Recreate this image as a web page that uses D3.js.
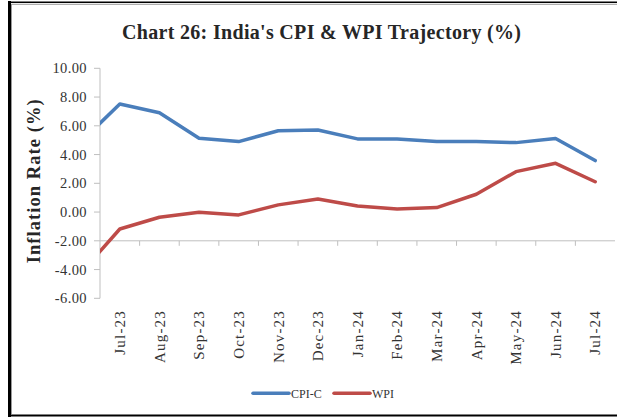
<!DOCTYPE html>
<html lang="en">
<head>
	<meta charset="utf-8">
	<title>Chart 26</title>
	<style>
		body { margin: 0; background: #fff; }
		svg text { font-family: "Liberation Serif", "Times New Roman", serif; fill: #333; }
	</style>
</head>
<body>
	<svg id="chart" width="617" height="417"></svg>

	<script src="https://d3js.org/d3.v7.min.js"></script>
	<script>
		"use strict";

		// Jun-23 sits just left of the plot area; the lines are clipped at the axis
		var months = ["Jun-23", "Jul-23", "Aug-23", "Sep-23", "Oct-23", "Nov-23", "Dec-23",
			"Jan-24", "Feb-24", "Mar-24", "Apr-24", "May-24", "Jun-24", "Jul-24"];
		var cpiC = [4.84, 7.52, 6.91, 5.13, 4.90, 5.66, 5.71, 5.09, 5.09, 4.90, 4.90, 4.83, 5.11, 3.58];
		var wpi = [-4.30, -1.18, -0.36, -0.01, -0.20, 0.50, 0.91, 0.42, 0.22, 0.31, 1.24, 2.81, 3.39, 2.11];
		var yTicks = [-6, -4, -2, 0, 2, 4, 6, 8, 10];
		var seriesNames = ["CPI-C", "WPI"];
		var colors = ["#4A7EBB", "#BE4B48"];

		var svg = d3.select("#chart");
		var pLeft = 100, pRight = 615, pTop = 68.3, pBottom = 298.3;
		var shown = months.slice(1);
		var step = (pRight - pLeft) / shown.length;

		var x = d3.scalePoint()
			.domain(months)
			.range([pLeft - step / 2, pRight - step / 2]);
		var y = d3.scaleLinear().domain([-6, 10]).range([pBottom, pTop]);

		// frame
		svg.append("rect").attr("x", 8).attr("y", 1).attr("width", 3).attr("height", 416).attr("fill", "#000");
		svg.append("line").attr("x1", 11.5).attr("x2", 11.5).attr("y1", 4).attr("y2", 414)
			.attr("stroke", "#9a9a9a").attr("stroke-width", 1);
		svg.append("line").attr("x1", 8).attr("x2", 617).attr("y1", 2.2).attr("y2", 2.2)
			.attr("stroke", "#000").attr("stroke-width", 1.4);
		svg.append("line").attr("x1", 11).attr("x2", 617).attr("y1", 4.3).attr("y2", 4.3)
			.attr("stroke", "#9a9a9a").attr("stroke-width", 1);
		svg.append("line").attr("x1", 8).attr("x2", 617).attr("y1", 415.6).attr("y2", 415.6)
			.attr("stroke", "#000").attr("stroke-width", 2);

		// title
		svg.append("text")
			.attr("x", 321.5).attr("y", 39)
			.attr("text-anchor", "middle")
			.attr("font-size", 20).attr("font-weight", "bold")
			.attr("textLength", 399).attr("lengthAdjust", "spacing")
			.style("fill", "#262626")
			.text("Chart 26: India's CPI & WPI Trajectory (%)");

		// y axis
		var axisColor = "#bfbfbf";
		svg.append("line").attr("x1", pLeft).attr("x2", pLeft).attr("y1", pTop).attr("y2", pBottom)
			.attr("stroke", axisColor).attr("stroke-width", 1);
		var fmt = d3.format(".2f");
		var yt = svg.append("g").selectAll("g").data(yTicks).enter().append("g");
		yt.append("line")
			.attr("x1", pLeft - 6).attr("x2", pLeft)
			.attr("y1", function(d){ return y(d); })
			.attr("y2", function(d){ return y(d); })
			.attr("stroke", axisColor);
		yt.append("text")
			.attr("x", 87).attr("y", function(d){ return y(d); })
			.attr("dy", "0.35em")
			.attr("text-anchor", "end")
			.attr("font-size", 14.5).attr("letter-spacing", 0.4)
			.text(function(d){ return fmt(d).replace("\u2212", "-"); });

		svg.append("text")
			.attr("transform", "translate(40," + ((pTop + pBottom) / 2 - 2) + ") rotate(-90)")
			.attr("text-anchor", "middle")
			.attr("font-size", 18.5).attr("font-weight", "bold")
			.attr("textLength", 164).attr("lengthAdjust", "spacing")
			.style("fill", "#262626")
			.text("Inflation Rate (%)");

		// x axis, crossing at -2
		var y0 = y(-2);
		svg.append("line").attr("x1", pLeft).attr("x2", pRight).attr("y1", y0).attr("y2", y0)
			.attr("stroke", axisColor);
		svg.append("g").selectAll("line").data(shown.slice(1)).enter().append("line")
			.attr("x1", function(d){ return x(d) - step / 2; })
			.attr("x2", function(d){ return x(d) - step / 2; })
			.attr("y1", y0).attr("y2", y0 + 5)
			.attr("stroke", axisColor);
		svg.append("g").selectAll("text").data(shown).enter().append("text")
			.attr("transform", function(d){ return "translate(" + x(d) + ",310) rotate(-90)"; })
			.attr("dy", "0.35em")
			.attr("text-anchor", "end")
			.attr("font-size", 15).attr("letter-spacing", 1.2)
			.text(function(d){ return d; });

		// lines
		svg.append("clipPath").attr("id", "plot")
			.append("rect").attr("x", pLeft).attr("y", 0).attr("width", pRight - pLeft).attr("height", 417);

		var line = d3.line()
			.x(function(d){ return x(d.m); })
			.y(function(d){ return y(d.v); });

		[cpiC, wpi].forEach(function(vals, s){
			var pts = vals.map(function(v, i){ return { m: months[i], v: v }; });
			svg.append("path")
				.attr("d", line(pts))
				.attr("clip-path", "url(#plot)")
				.attr("fill", "none")
				.attr("stroke", colors[s])
				.attr("stroke-width", 3.5)
				.attr("stroke-linejoin", "round")
				.attr("stroke-linecap", "round");
		});

		// legend
		var legendX = [253, 334];
		var lg = svg.append("g").selectAll("g").data(seriesNames).enter().append("g");
		lg.append("line")
			.attr("x1", function(d, i){ return legendX[i]; })
			.attr("x2", function(d, i){ return legendX[i] + 36; })
			.attr("y1", 393.3).attr("y2", 393.3)
			.attr("stroke", function(d, i){ return colors[i]; })
			.attr("stroke-width", 3.5)
			.attr("stroke-linecap", "round");
		lg.append("text")
			.attr("x", function(d, i){ return legendX[i] + 38; })
			.attr("y", 393.3).attr("dy", "0.35em")
			.attr("font-size", 12)
			.text(function(d){ return d; });
	</script>
</body>
</html>
